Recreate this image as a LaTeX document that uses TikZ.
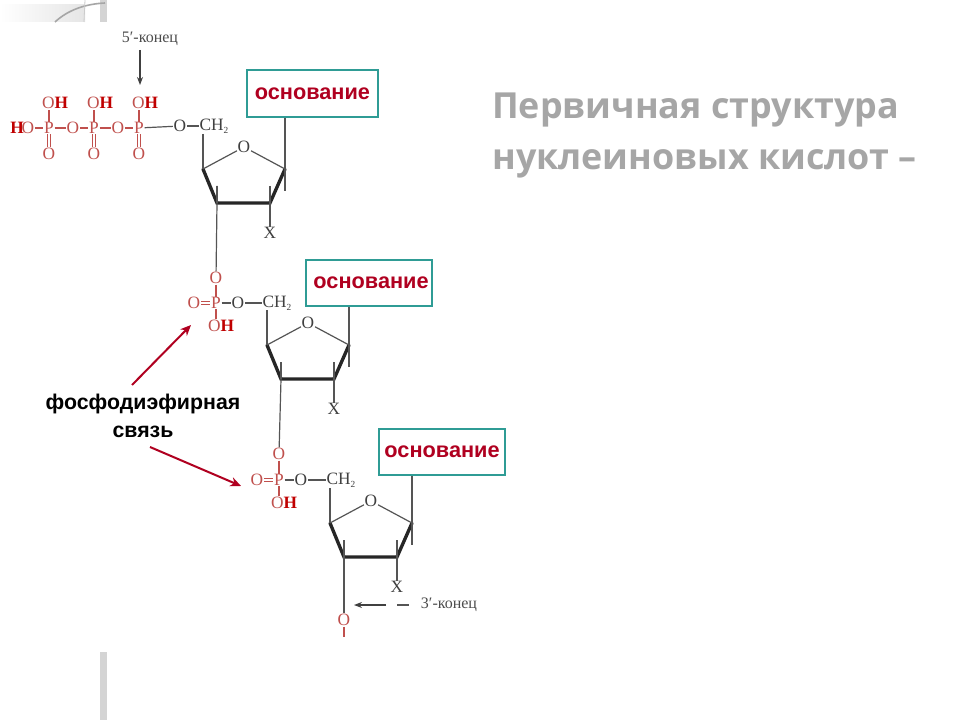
\documentclass[tikz,border=0pt]{standalone}
\usepackage{fontspec}
\setmainfont{Liberation Serif}
\setsansfont{Liberation Sans}
\newfontfamily\titlefont{Open Sans}
\usetikzlibrary{arrows.meta}
\definecolor{chemred}{HTML}{C0504D}
\definecolor{darkred}{HTML}{B00020}
\definecolor{boldred}{HTML}{C00000}
\definecolor{boxteal}{HTML}{2F9C95}
\definecolor{bond}{HTML}{555555}
\definecolor{titlegrey}{HTML}{A6A6A6}
\definecolor{barcol}{HTML}{D4D4D4}
\tikzset{
  atom/.style={font=\fontsize{13}{14}\selectfont,text=black!75,inner sep=0.4pt},
  ratom/.style={font=\fontsize{13}{14}\selectfont,text=chemred,inner sep=0.4pt},
  bondline/.style={draw=bond,line width=0.9pt},
  rbond/.style={draw=chemred,line width=0.9pt},
  thick ring/.style={draw=black!85,line width=2.5pt,line join=miter,line cap=round},
  basebox/.style={draw=boxteal,line width=1.6pt,fill=white,inner sep=0pt,anchor=north west,
     font=\sffamily\bfseries\fontsize{16.3}{17}\selectfont,text=darkred},
  endlabel/.style={font=\fontsize{12}{13}\selectfont,text=black!70,inner sep=0.5pt},
  redarrow/.style={draw=darkred,line width=1.5pt,-{Stealth[length=8pt,width=7pt]}},
  thinarrow/.style={draw=black!75,line width=0.9pt,-{Stealth[length=6pt,width=4.5pt]}},
  bondcaption/.style={font=\sffamily\bfseries\fontsize{16}{18}\selectfont,text=black,inner sep=0pt,align=center},
  heading/.style={font=\titlefont\bfseries\fontsize{26.9}{30}\selectfont,text=titlegrey,inner sep=0pt,anchor=west},
}
\newcommand{\OHlabel}{O\textcolor{boldred}{\textbf{H}}}
\newcommand{\CHtwo}{CH\raisebox{-2pt}{\fontsize{7}{8}\selectfont 2}}
\newcommand{\basetext}{\raisebox{-1.2pt}{основание}}
% sugar ring: #1 prefix, #2 C4 position
\newcommand{\sugarunit}[2]{%
\begin{scope}[shift={(#2)}]
  \node[atom] (#1O) at (41,-22) {O};
  \coordinate (#1C4) at (0,0);
  \coordinate (#1C3) at (14,34);
  \coordinate (#1C2) at (67,34);
  \coordinate (#1C1) at (82,0);
  \coordinate (#1C3t) at (14,17);
  \coordinate (#1C2t) at (67,17);
  \coordinate (#1C1b) at (82,22);
  \coordinate (#1C5) at (0,-35);
  \node[atom] (#1X) at (67,64) {X};
  \draw[thick ring] (#1C4) -- (#1C3) -- (#1C2) -- (#1C1);
  \draw[bondline] (#1C4) -- (#1O) -- (#1C1);
  \draw[bondline] (#1C3t) -- (#1C3);
  \draw[bondline] (#1C2t) -- (#1C2) -- (#1X);
  \draw[bondline] (#1C5) -- (#1C4);
\end{scope}}
\begin{document}
\begin{tikzpicture}[x=0.75pt,y=-0.75pt]
\useasboundingbox (0,0) rectangle (960,720);
\fill[white] (0,0) rectangle (960,720);
% slide decoration
\shade[left color=white,right color=black!10] (0,5) rectangle (85,22);
\fill[barcol] (100,0) rectangle (107,22);
\fill[barcol] (100,652) rectangle (107,720);
\draw[black!35,line width=1.2pt] (55,22) .. controls (68,10) and (85,4) .. (105,3);
\draw[black!20,line width=0.6pt] (85,0) -- (84,22);
% triphosphate head
\node[ratom] (h0) at (17,128) {\textcolor{boldred}{\textbf{H}}};
\node[ratom] (o0) at (28,128) {O};
\node[ratom] (p1) at (49,128) {P};
\node[ratom] (o1) at (73,128) {O};
\node[ratom] (p2) at (94,128) {P};
\node[ratom] (o2) at (118,128) {O};
\node[ratom] (p3) at (139,128) {P};
\node[ratom] (oh1) at (55,103) {\OHlabel};
\node[ratom] (oh2) at (100,103) {\OHlabel};
\node[ratom] (oh3) at (145,103) {\OHlabel};
\node[ratom] (d1) at (49,154) {O};
\node[ratom] (d2) at (94,154) {O};
\node[ratom] (d3) at (139,154) {O};
\draw[rbond] (o0) -- (p1); \draw[rbond] (p1) -- (o1); \draw[rbond] (o1) -- (p2);
\draw[rbond] (p2) -- (o2); \draw[rbond] (o2) -- (p3);
\foreach \a in {1,2,3}{
  \draw[rbond] (p\a.north) -- (p\a.north |- oh\a.south);
  \draw[rbond,double,double distance=1.5pt,line width=0.6pt] (p\a) -- (d\a);
}
\node[atom] (o5a) at (180,126) {O};
\node[atom] (ch2a) at (214,126) {\CHtwo};
\draw[bondline] (p3) -- (o5a);
\draw[bondline] (o5a) -- (ch2a);
\node[endlabel] (five) at (150,39) {5′-конец};
\coordinate (fiveend) at (140,85);
\draw[thinarrow] (140,50) -- (fiveend);
% sugars
\sugarunit{a}{203,169}
\sugarunit{b}{267,345}
\sugarunit{c}{330,523}
% bases
\node[basebox,minimum width=98pt,minimum height=35pt] (ba) at (246,69) {\basetext};
\node[basebox,minimum width=94.5pt,minimum height=34.5pt] (bb) at (305,259) {\hspace{3pt}\basetext};
\node[basebox,minimum width=94.5pt,minimum height=34.5pt] (bc) at (378,428) {\basetext};
\draw[bondline] (ba.south -| aC1) -- (aC1b);
\draw[bondline] (bb.south -| bC1) -- (bC1b);
\draw[bondline] (bc.south -| cC1) -- (cC1b);
% second phosphate
\node[ratom] (ptop2) at (216,278) {O};
\node[ratom] (p4) at (216,303) {P};
\node[ratom] (eq2) at (194,303) {O};
\node[ratom] (oh4) at (221,326) {\OHlabel};
\node[atom] (o5b) at (238,303) {O};
\node[atom] (ch2b) at (277,303) {\CHtwo};
\draw[bondline] (aC3t) -- (aC3) -- (ptop2);
\draw[rbond] (ptop2) -- (p4);
\draw[rbond] (p4.south) -- (p4.south |- oh4.north);
\draw[rbond,double,double distance=1.5pt,line width=0.6pt] (eq2) -- (p4);
\draw[bondline] (p4) -- (o5b);
\draw[bondline] (o5b) -- (ch2b);
% third phosphate
\node[ratom] (ptop3) at (279,454) {O};
\node[ratom] (p5) at (279,480) {P};
\node[ratom] (eq3) at (257,480) {O};
\node[ratom] (oh5) at (284,503) {\OHlabel};
\node[atom] (o5c) at (301,480) {O};
\node[atom] (ch2c) at (341,480) {\CHtwo};
\draw[bondline] (bC3) -- (ptop3);
\draw[rbond] (ptop3) -- (p5);
\draw[rbond] (p5.south) -- (p5.south |- oh5.north);
\draw[rbond,double,double distance=1.5pt,line width=0.6pt] (eq3) -- (p5);
\draw[bondline] (p5) -- (o5c);
\draw[bondline] (o5c) -- (ch2c);
% 3' end
\node[ratom] (o3) at (344,620) {O};
\coordinate (o3tail) at (344,637);
\draw[bondline] (cC3) -- (o3);
\draw[rbond] (o3) -- (o3tail);
\node[endlabel] (three) at (449,605) {3′-конец};
\coordinate (threea) at (386,605);
\coordinate (threeb) at (354,605);
\draw[thinarrow] (threea) -- (threeb);
\draw[bondline] (397,605) -- (409,605);
% caption and arrows
\node[bondcaption] (cap1) at (143,404) {фосфодиэфирная};
\node[bondcaption] (cap2) at (143,432) {связь};
\coordinate (arr1) at (191,325);
\coordinate (arr2) at (241,486);
\draw[redarrow] (132,385) -- (arr1);
\draw[redarrow] (150,447) -- (arr2);
% heading
\node[heading] (t1) at (492,110) {Первичная структура};
\node[heading] (t2) at (492,164) {нуклеиновых кислот –};
\end{tikzpicture}
\end{document}
